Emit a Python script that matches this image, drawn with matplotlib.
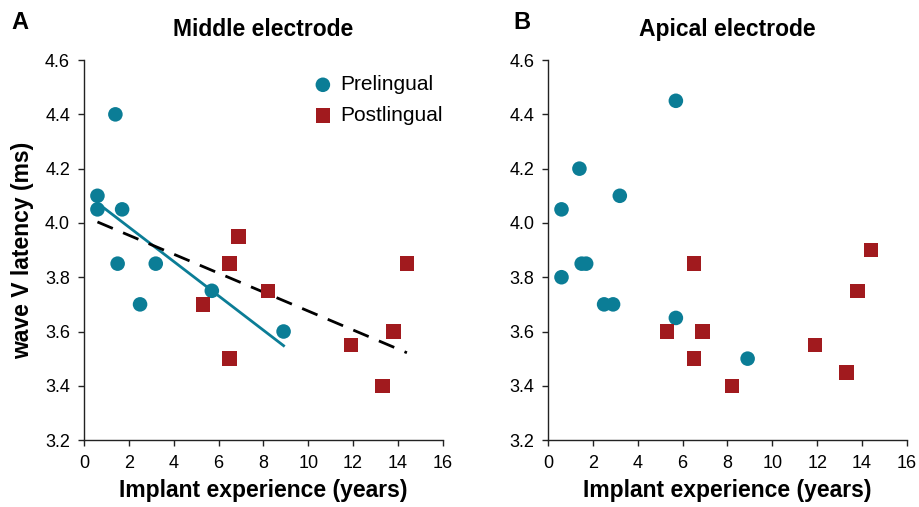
import numpy as np
import matplotlib
matplotlib.use("Agg")
import matplotlib.pyplot as plt

plt.rcParams["font.family"] = ["Liberation Sans", "DejaVu Sans"]

TEAL = "#0b7d96"
RED = "#a11a1e"

# Middle electrode
mid_pre_x = [0.6, 0.6, 1.4, 1.7, 1.5, 2.5, 3.2, 5.7, 8.9]
mid_pre_y = [4.10, 4.05, 4.40, 4.05, 3.85, 3.70, 3.85, 3.75, 3.60]
mid_post_x = [6.9, 6.5, 5.3, 6.5, 8.2, 11.9, 13.3, 13.8, 14.4]
mid_post_y = [3.95, 3.85, 3.70, 3.50, 3.75, 3.55, 3.40, 3.60, 3.85]

# Apical electrode
api_pre_x = [5.7, 1.4, 3.2, 0.6, 1.5, 1.7, 0.6, 2.5, 2.9, 5.7, 8.9]
api_pre_y = [4.45, 4.20, 4.10, 4.05, 3.85, 3.85, 3.80, 3.70, 3.70, 3.65, 3.50]
api_post_x = [6.5, 14.4, 13.8, 5.3, 6.9, 6.5, 8.2, 11.9, 13.3]
api_post_y = [3.85, 3.90, 3.75, 3.60, 3.60, 3.50, 3.40, 3.55, 3.45]

x_ticks = [0, 2, 4, 6, 8, 10, 12, 14, 16]
y_ticks = [3.2, 3.4, 3.6, 3.8, 4.0, 4.2, 4.4, 4.6]


def style_axes(ax):
    ax.set_xlim(0, 16)
    ax.set_ylim(3.2, 4.6)
    ax.set_xticks(x_ticks)
    ax.set_yticks(y_ticks)
    ax.set_yticklabels([f"{t:.1f}" for t in y_ticks])
    for side in ("top", "right"):
        ax.spines[side].set_visible(False)
    for side in ("left", "bottom"):
        ax.spines[side].set_color("#222222")
        ax.spines[side].set_linewidth(1.0)
    ax.tick_params(labelsize=13, length=4, width=1, colors="#222222", labelcolor="black")
    ax.tick_params(axis="x", pad=7)
    ax.tick_params(axis="y", pad=6)
    ax.set_xlabel("Implant experience (years)", fontsize=16.5, fontweight="bold", labelpad=5)


fig = plt.figure(figsize=(9.2, 5.07), dpi=100)
ax1 = fig.add_axes([0.0913, 0.132, 0.390, 0.7495])
ax2 = fig.add_axes([0.5957, 0.132, 0.390, 0.7495])

# Middle electrode panel
ax1.scatter(mid_pre_x, mid_pre_y, s=110, marker="o", color=TEAL, edgecolors="none",
            label="Prelingual", zorder=3)
ax1.scatter(mid_post_x, mid_post_y, s=110, marker="s", color=RED, edgecolors="none",
            label="Postlingual", zorder=3)

# regression line for prelingual only
slope, icpt = np.polyfit(mid_pre_x, mid_pre_y, 1)
xs = np.array([min(mid_pre_x), max(mid_pre_x)])
ax1.plot(xs, slope * xs + icpt, color=TEAL, lw=2, zorder=2)

# regression line over everyone
all_x = mid_pre_x + mid_post_x
all_y = mid_pre_y + mid_post_y
slope, icpt = np.polyfit(all_x, all_y, 1)
xs = np.array([min(all_x), max(all_x)])
ax1.plot(xs, slope * xs + icpt, color="black", lw=2, ls=(0, (6, 4)), zorder=2)

style_axes(ax1)
ax1.set_ylabel("wave V latency (ms)", fontsize=16.5, fontweight="bold", labelpad=8)
ax1.set_title("Middle electrode", fontsize=16.5, fontweight="bold", pad=17.5)
ax1.legend(loc="upper right", frameon=False, fontsize=15, handlelength=1.5,
           handletextpad=0.1, borderaxespad=0.0, labelspacing=0.55,
           bbox_to_anchor=(1.024, 0.982))

# Apical electrode panel
ax2.scatter(api_pre_x, api_pre_y, s=110, marker="o", color=TEAL, edgecolors="none", zorder=3)
ax2.scatter(api_post_x, api_post_y, s=110, marker="s", color=RED, edgecolors="none", zorder=3)
style_axes(ax2)
ax2.set_title("Apical electrode", fontsize=16.5, fontweight="bold", pad=17.5)

fig.text(0.012, 0.955, "A", fontsize=17, fontweight="bold", va="center")
fig.text(0.558, 0.955, "B", fontsize=17, fontweight="bold", va="center")

fig.savefig("out.png", dpi=100)
